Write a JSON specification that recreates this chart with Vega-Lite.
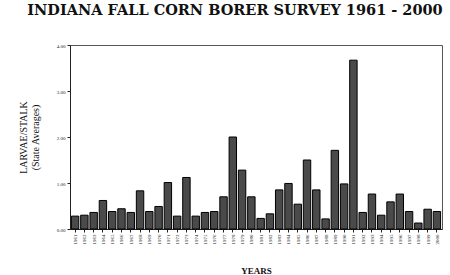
{
  "$schema": "https://vega.github.io/schema/vega-lite/v6.json",
  "width": 372,
  "height": 184,
  "autosize": {"type": "none"},
  "padding": {"left": 70, "top": 45, "right": 8, "bottom": 46},
  "background": "white",
  "title": {
    "text": "INDIANA FALL CORN BORER SURVEY 1961 - 2000",
    "font": "DejaVu Serif",
    "fontSize": 14.5,
    "fontWeight": "bold",
    "color": "#111",
    "anchor": "middle",
    "dx": -21,
    "offset": 25
  },
  "config": {
    "view": {"stroke": "#555", "strokeWidth": 1},
    "axis": {"labelFont": "Liberation Serif", "titleFont": "Liberation Serif", "domainColor": "#222", "tickColor": "#222", "grid": false}
  },
  "data": {
    "values": [
      {"year": "1961", "v": 0.28}, {"year": "1962", "v": 0.30}, {"year": "1963", "v": 0.36},
      {"year": "1964", "v": 0.62}, {"year": "1965", "v": 0.38}, {"year": "1966", "v": 0.44},
      {"year": "1967", "v": 0.36}, {"year": "1968", "v": 0.83}, {"year": "1969", "v": 0.38},
      {"year": "1970", "v": 0.49}, {"year": "1971", "v": 1.01}, {"year": "1972", "v": 0.28},
      {"year": "1973", "v": 1.12}, {"year": "1974", "v": 0.28}, {"year": "1975", "v": 0.36},
      {"year": "1976", "v": 0.38}, {"year": "1977", "v": 0.70}, {"year": "1978", "v": 2.00},
      {"year": "1979", "v": 1.28}, {"year": "1980", "v": 0.70}, {"year": "1981", "v": 0.23},
      {"year": "1982", "v": 0.33}, {"year": "1983", "v": 0.85}, {"year": "1984", "v": 0.99},
      {"year": "1985", "v": 0.54}, {"year": "1986", "v": 1.50}, {"year": "1987", "v": 0.85},
      {"year": "1988", "v": 0.22}, {"year": "1989", "v": 1.71}, {"year": "1990", "v": 0.98},
      {"year": "1991", "v": 3.67}, {"year": "1992", "v": 0.36}, {"year": "1993", "v": 0.76},
      {"year": "1994", "v": 0.30}, {"year": "1995", "v": 0.59}, {"year": "1996", "v": 0.76},
      {"year": "1997", "v": 0.38}, {"year": "1998", "v": 0.13}, {"year": "1999", "v": 0.43},
      {"year": "2000", "v": 0.38}
    ]
  },
  "mark": {"type": "bar", "color": "#4a4a4a", "stroke": "#000", "strokeWidth": 1},
  "encoding": {
    "x": {
      "field": "year", "type": "ordinal",
      "scale": {"paddingInner": 0.2, "paddingOuter": 0.15},
      "axis": {
        "title": "YEARS", "titleFontSize": 9, "titleFontWeight": "bold", "titleColor": "#111",
        "titlePadding": 22,
        "labelAngle": -90, "labelFontSize": 5, "labelColor": "#222", "labelPadding": 2,
        "tickSize": 3, "domain": true
      }
    },
    "y": {
      "field": "v", "type": "quantitative",
      "scale": {"domain": [0, 4]},
      "axis": {
        "title": ["LARVAE/STALK", "(State Averages)"],
        "titleFontSize": 10, "titleFontWeight": "normal", "titleColor": "#111",
        "titlePadding": 16,
        "values": [0, 1, 2, 3, 4], "format": ".2f",
        "labelFontSize": 5, "labelColor": "#222", "labelPadding": 2, "tickSize": 3
      }
    }
  }
}
